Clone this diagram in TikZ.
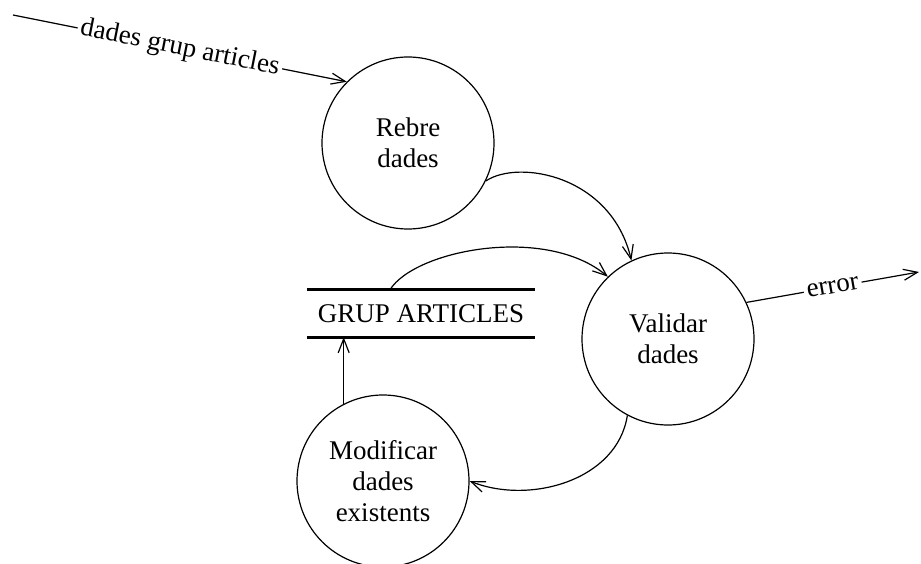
\documentclass[tikz,border=0pt]{standalone}
\usepackage{fontspec}
\setmainfont{Liberation Serif}
\usetikzlibrary{arrows.meta,calc}
\begin{document}
\begin{tikzpicture}[x=1pt,y=1pt,
  txt/.style={font=\fontsize{27}{31}\selectfont},
  process/.style={draw, circle, line width=1.2pt, minimum size=172pt,
    inner sep=0pt, align=center, txt},
  flow/.style={line width=1.2pt,
    -{Straight Barb[length=14pt,width=11pt,line width=1.2pt]}},
  flowlabel/.style={fill=white, inner xsep=3pt, inner ysep=1pt, sloped, txt},
  datastore/.style={minimum width=228pt, minimum height=47pt, inner sep=0pt, txt},
  storeline/.style={line width=3pt}]
\useasboundingbox (0,0) rectangle (921,-564);

% processes
\node[process] (rebre) at (408,-143) {Rebre\\dades};
\node[process] (validar) at (668,-339) {Validar\\dades};
\node[process] (modif) at (383,-481) {Modificar\\dades\\existents};

% data store
\node[datastore] (store) at (421,-313.5) {GRUP ARTICLES};
\draw[storeline] (store.north west) -- (store.north east);
\draw[storeline] (store.south west) -- (store.south east);

% external ends
\coordinate (src) at (13,-15);
\coordinate (sink) at (919,-272);

% flows
\draw[flow] (src) -- node[flowlabel] {dades grup articles} (rebre.135);
\draw[flow] (rebre.-26.3) .. controls +(33,22) and +(-20,85) .. (validar.115.7);
\draw[flow] ($(store.north west)!0.364!(store.north east)$)
  .. controls +(25,40) and +(-62,52) .. (validar.134.5);
\draw[flow] (validar.25.1) -- node[flowlabel] {error} (sink);
\draw[flow] (validar.242.2) .. controls +(-10,-65) and +(60,-24) .. (modif.east);
\draw[flow] (modif.117.8) -- (modif.117.8 |- store.south);
\end{tikzpicture}
\end{document}
